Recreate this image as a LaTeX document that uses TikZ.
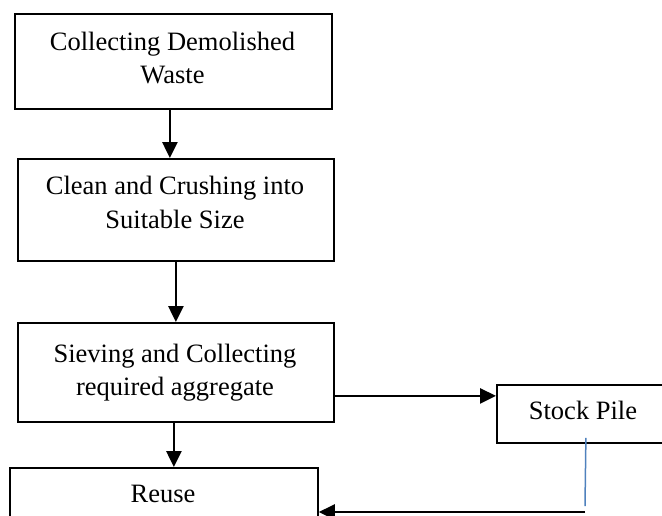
\documentclass[tikz,border=0pt]{standalone}
\usepackage{fontspec}
\setmainfont{Liberation Serif}
\usetikzlibrary{arrows.meta}
\definecolor{linkblue}{RGB}{79,129,189}
\begin{document}
\begin{tikzpicture}[x=1pt,y=-1pt,
  font=\fontsize{26.5}{33}\selectfont,
  stepbox/.style={draw, line width=1.8pt, rectangle, inner sep=0pt, anchor=north west},
  txt/.style={inner sep=0pt, anchor=base},
  arr/.style={line width=2.7pt, -{Triangle[length=16pt,width=15pt]}}]
  % page frame; boxes running past the edge are cut off
  \useasboundingbox (0,0) rectangle (662,515);
  \clip (0,0) rectangle (662,515);

  % process boxes
  \node[stepbox, minimum width=317pt, minimum height=95pt]  (b1) at (14,13)  {};
  \node[stepbox, minimum width=316pt, minimum height=102pt] (b2) at (17,158) {};
  \node[stepbox, minimum width=316pt, minimum height=99pt]  (b3) at (17,322) {};
  \node[stepbox, minimum width=308pt, minimum height=100pt] (b4) at (9,467)  {};
  \node[stepbox, minimum width=174pt, minimum height=58pt]  (sp) at (496,384) {};

  % box texts
  \node[txt] (t1a) at (172.5,50)  {Collecting Demolished};
  \node[txt] (t1b) at (172.5,83)  {Waste};
  \node[txt] (t2a) at (175,194)   {Clean and Crushing into};
  \node[txt] (t2b) at (175,228)   {Suitable Size};
  \node[txt] (t3a) at (175,362)   {Sieving and Collecting};
  \node[txt] (t3b) at (175,395)   {required aggregate};
  \node[txt] (t4)  at (163,502)   {Reuse};
  \node[txt] (t5)  at (583,419)   {Stock Pile};

  % main flow
  \draw[arr] ([xshift=-3.5pt]b1.south) -- ([xshift=-3.5pt]b1.south |- b2.north);
  \draw[arr] (b2.south) -- (b2.south |- b3.north);
  \draw[arr] ([xshift=-2pt]b3.south) -- ([xshift=-2pt]b3.south |- b4.north);
  \draw[arr] ([yshift=-23.5pt]b3.east) -- ([yshift=-23.5pt]b3.east -| sp.west);

  % stock pile back to reuse
  \coordinate (turn) at (585,512);
  \draw[linkblue, line width=1.5pt] ([xshift=2pt,yshift=6pt]sp.south) -- ([yshift=6pt]turn);
  \draw[arr] (turn) -- (turn -| b4.east);
\end{tikzpicture}
\end{document}
